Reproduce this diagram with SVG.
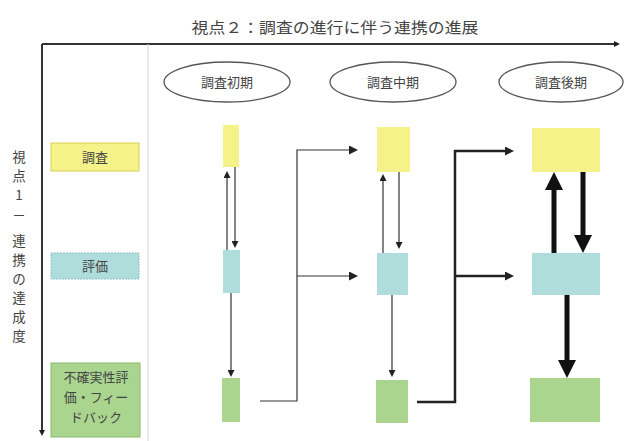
<svg xmlns="http://www.w3.org/2000/svg" width="625" height="441" viewBox="0 0 625 441">
<style>
text{font-family:"Noto Sans CJK JP","Noto Sans CJK SC",sans-serif;fill:#444;}
.axis{stroke:#333;stroke-width:2;fill:none;}
.sep{stroke:#d4d4d4;stroke-width:1;fill:none;}
.thin{stroke:#333;stroke-width:1.2;fill:none;}
.mid{stroke:#222;stroke-width:2.5;fill:none;}
.thick{stroke:#111;stroke-width:5;fill:none;}
.y{fill:#f6f28a;}
.c{fill:#aedddc;}
.g{fill:#a9d58f;}
.ell{fill:#fff;stroke:#555;stroke-width:1.3;}
.lbl{font-size:13px;text-anchor:middle;}
.v{font-size:13.5px;text-anchor:middle;}
</style>
<defs>
<marker id="ax" viewBox="0 0 10 10" refX="0" refY="5" markerWidth="6" markerHeight="6" markerUnits="userSpaceOnUse" orient="auto"><path d="M0,0 L10,5 L0,10 z" fill="#222"/></marker>
<marker id="ah" viewBox="0 0 10 10" refX="0" refY="5" markerWidth="8" markerHeight="7" markerUnits="userSpaceOnUse" orient="auto"><path d="M0,0 L10,5 L0,10 z" fill="#222"/></marker>
<marker id="ahm" viewBox="0 0 10 10" refX="0" refY="5" markerWidth="9" markerHeight="9" markerUnits="userSpaceOnUse" orient="auto"><path d="M0,0 L10,5 L0,10 z" fill="#222"/></marker>
<marker id="ahb" viewBox="0 0 10 10" refX="0" refY="5" markerWidth="18" markerHeight="18" markerUnits="userSpaceOnUse" orient="auto"><path d="M0,0 L10,5 L0,10 z" fill="#111"/></marker>
</defs>
<rect width="625" height="441" fill="#fff"/>

<g id="axes">
<path class="axis" d="M42,44 H614" marker-end="url(#ax)"/>
<path class="axis" d="M42,44 V430" marker-end="url(#ax)"/>
<path class="sep" d="M148,44 V441"/>
<text x="335" y="33" font-size="15" text-anchor="middle" textLength="287" lengthAdjust="spacingAndGlyphs">視点２：調査の進行に伴う連携の進展</text>
<text class="v" x="19" y="162">視</text>
<text class="v" x="19" y="181">点</text>
<text class="v" x="19" y="200">1</text>
<text class="v" x="19" y="220">－</text>
<text class="v" x="19" y="246">連</text>
<text class="v" x="19" y="265">携</text>
<text class="v" x="19" y="284">の</text>
<text class="v" x="19" y="303">達</text>
<text class="v" x="19" y="322">成</text>
<text class="v" x="19" y="341">度</text>
</g>

<g id="row-chosa">
<rect class="y" x="51" y="143" width="88" height="28" stroke="#d8cf50" stroke-width="1"/>
<text class="lbl" x="95" y="162">調査</text>
</g>
<g id="row-hyoka">
<rect class="c" x="51" y="253" width="88" height="26" stroke="#8cc3c3" stroke-width="1" stroke-dasharray="2,1"/>
<text class="lbl" x="95" y="271">評価</text>
</g>
<g id="row-fb">
<rect class="g" x="51" y="363" width="89" height="74" stroke="#8abb70" stroke-width="1"/>
<text class="lbl" x="96" y="382">不確実性評</text>
<text class="lbl" x="96" y="402">価・フィー</text>
<text class="lbl" x="96" y="422">ドバック</text>
</g>

<g id="phase-early">
<ellipse class="ell" cx="227" cy="82" rx="63" ry="20"/>
<text class="lbl" x="227" y="87">調査初期</text>
</g>
<g id="phase-mid">
<ellipse class="ell" cx="393" cy="82" rx="63" ry="20"/>
<text class="lbl" x="393" y="87">調査中期</text>
</g>
<g id="phase-late">
<ellipse class="ell" cx="561" cy="82" rx="62" ry="20"/>
<text class="lbl" x="561" y="87">調査後期</text>
</g>

<g id="early-chosa"><rect class="y" x="223" y="125" width="16" height="42"/></g>
<g id="early-hyoka"><rect class="c" x="223" y="250" width="17" height="43"/></g>
<g id="early-fb"><rect class="g" x="222" y="378" width="18" height="44"/></g>

<g id="mid-chosa"><rect class="y" x="377" y="127" width="33" height="45"/></g>
<g id="mid-hyoka"><rect class="c" x="377" y="253" width="31" height="42"/></g>
<g id="mid-fb"><rect class="g" x="376" y="380" width="32" height="43"/></g>

<g id="late-chosa"><rect class="y" x="532" y="128" width="68" height="44"/></g>
<g id="late-hyoka"><rect class="c" x="532" y="253" width="68" height="42"/></g>
<g id="late-fb"><rect class="g" x="530" y="378" width="70" height="44"/></g>

<g id="connectors">
<path class="thin" d="M227,250 V178" marker-end="url(#ah)"/>
<path class="thin" d="M235,167 V241" marker-end="url(#ah)"/>
<path class="thin" stroke="#777" d="M231,293 V370" marker-end="url(#ah)"/>
<path class="thin" stroke-width="1.5" d="M260,401 H297 V150 H349" marker-end="url(#ahm)"/>
<path class="thin" stroke-width="1.5" d="M297,276 H349" marker-end="url(#ahm)"/>

<path class="thin" d="M383,253 V181" marker-end="url(#ah)"/>
<path class="thin" d="M399,172 V242" marker-end="url(#ah)"/>
<path class="thin" d="M392,295 V370" marker-end="url(#ah)"/>
<path class="mid" d="M417,402 H455 V151 H505" marker-end="url(#ahm)"/>
<path class="mid" d="M455,276 H505" marker-end="url(#ahm)"/>

<path class="thick" d="M554,253 V190" marker-end="url(#ahb)"/>
<path class="thick" d="M583,172 V235" marker-end="url(#ahb)"/>
<path class="thick" d="M567,295 V360" marker-end="url(#ahb)"/>
</g>
</svg>
